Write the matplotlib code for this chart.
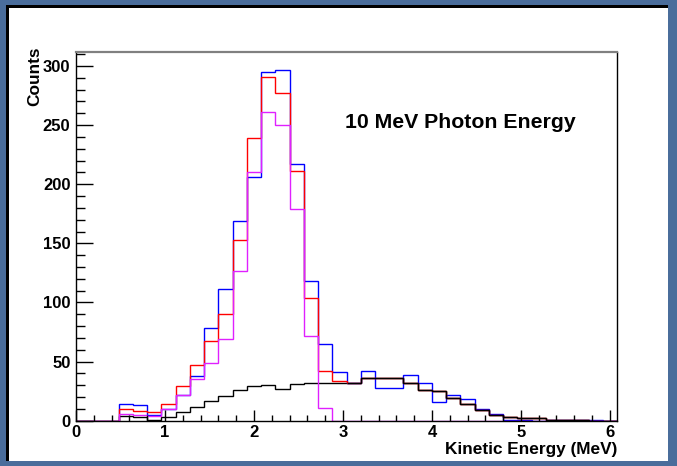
import numpy as np
import matplotlib
matplotlib.use("Agg")
import matplotlib.pyplot as plt
from matplotlib.patches import Rectangle
from matplotlib.ticker import MultipleLocator

# 38 bins of 0.16 MeV from 0 to 6.08 MeV
bin_width = 0.16
n_bins = 38

# counts per bin (bins 0-2 are empty in every histogram)
blue_counts = [0, 0, 0, 14, 13, 5, 10, 22, 38, 78, 111, 169, 206, 295, 297, 217, 118, 65, 41,
               32, 42, 28, 28, 39, 32, 16, 22, 18, 10, 6, 1, 1, 0, 1, 1, 1, 1, 0]
black_counts = [0, 0, 0, 4, 3, 1, 3, 7, 12, 17, 21, 26, 29, 30, 27, 31, 32, 32, 32,
                32, 36, 36, 36, 32, 26, 25, 19, 14, 9, 5, 3, 2, 2, 1, 1, 1, 0, 0]
red_counts = [0, 0, 0, 10, 8, 7, 14, 29, 47, 67, 90, 153, 239, 291, 277, 211, 104, 42, 34,
              32, 36, 36, 36, 32, 26, 25, 19, 14, 9, 5, 3, 2, 2, 1, 1, 1, 0, 0]
magenta_counts = [0, 0, 0, 6, 5, 4, 10, 22, 35, 49, 69, 127, 210, 261, 250, 179, 72, 11, 0,
                  0, 0, 0, 0, 0, 0, 0, 0, 0, 0, 0, 0, 0, 0, 0, 0, 0, 0, 0]

title_text = "10 MeV Photon Energy"
x_title = "Kinetic Energy (MeV)"
y_title = "Counts"

edges = np.arange(n_bins + 1) * bin_width

plt.rcParams['font.family'] = ['Liberation Sans', 'DejaVu Sans']
plt.rcParams['font.weight'] = 'bold'

W, H = 677, 466
fig = plt.figure(figsize=(W / 100, H / 100), dpi=100)
fig.patch.set_facecolor('#4a6d9b')

# canvas: dark bevel then white pad, in a background axes
bg = fig.add_axes([0, 0, 1, 1], zorder=-10)
bg.set_xlim(0, W)
bg.set_ylim(H, 0)
bg.axis('off')
bg.add_patch(Rectangle((6, 5), 662, 456, facecolor='black', edgecolor='none'))
bg.add_patch(Rectangle((9, 8), 659, 453, facecolor='white', edgecolor='none'))

ax = fig.add_axes([76 / W, (H - 420.7) / H, 541 / W, 368.7 / H])
ax.set_facecolor('white')

ax.stairs(black_counts, edges, baseline=0, color='black', lw=1.0)
ax.stairs(blue_counts, edges, baseline=0, color='#0000ff', lw=1.0)
ax.stairs(red_counts, edges, baseline=0, color='#ff0000', lw=1.0)
ax.stairs(magenta_counts, edges, baseline=0, color='#e020ff', lw=1.0)
# black tail drawn again so it sits on top where it overlaps the others
ax.stairs(black_counts[19:], edges[19:], baseline=None, color='black', lw=1.0)

ax.set_xlim(0, edges[-1])
ax.set_ylim(0, 1.05 * max(blue_counts))

for s in ax.spines.values():
    s.set_color('black')
    s.set_linewidth(1.0)
ax.spines['top'].set_color('#808080')
ax.spines['top'].set_linewidth(1.6)

ax.xaxis.set_major_locator(MultipleLocator(1))
ax.xaxis.set_minor_locator(MultipleLocator(0.2))
ax.yaxis.set_major_locator(MultipleLocator(50))
ax.yaxis.set_minor_locator(MultipleLocator(10))
ax.tick_params(axis='x', which='major', direction='in', length=8, width=1, pad=3, labelsize=12)
ax.tick_params(axis='x', which='minor', direction='in', length=4.3, width=1)
ax.tick_params(axis='y', which='major', direction='in', length=12, width=1, pad=4, labelsize=12)
ax.tick_params(axis='y', which='minor', direction='in', length=6.5, width=1)
for lab in ax.get_xticklabels() + ax.get_yticklabels():
    lab.set_fontweight('bold')

ax.text(1.0, -0.077, x_title, transform=ax.transAxes, ha='right', va='center',
        fontsize=12.4, fontweight='bold')
ax.text(-0.0758, 1.0136, y_title, transform=ax.transAxes, ha='center', va='top',
        rotation=90, fontsize=12.4, fontweight='bold')
ax.text(3.02, 252, title_text, ha='left', va='center', fontsize=15.3, fontweight='bold')

fig.savefig('out.png', dpi=100, facecolor=fig.get_facecolor())
